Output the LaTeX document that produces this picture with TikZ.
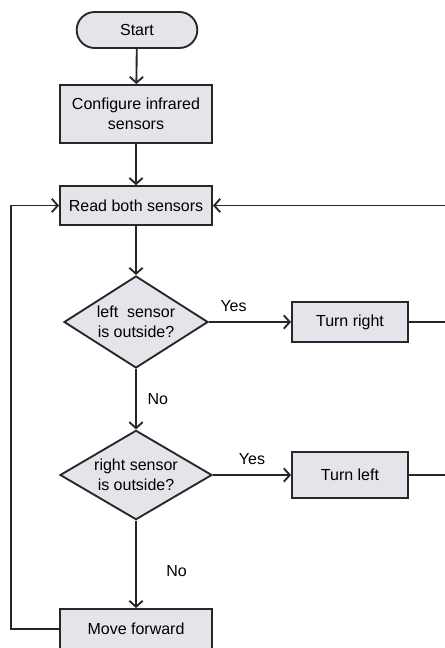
\documentclass[tikz,border=0pt]{standalone}
\usepackage{fontspec}
\setmainfont{Liberation Sans}
\usetikzlibrary{arrows.meta, positioning, shapes.geometric, shapes.misc, calc}
\definecolor{boxfill}{RGB}{228,228,235}
\definecolor{inkline}{RGB}{40,38,40}

\begin{document}
\begin{tikzpicture}[
    x=0.75pt, y=-0.75pt,
    base/.style={draw=inkline, line width=1.4pt, fill=boxfill,
                 font=\fontsize{12}{15}\selectfont, align=center, inner sep=2pt},
    term/.style={base, rounded rectangle, minimum width=94.5pt, minimum height=27pt},
    proc/.style={base, rectangle, minimum width=114pt, minimum height=30pt},
    turn/.style={base, rectangle, minimum width=87pt, minimum height=30pt},
    decide/.style={base, diamond, aspect=1.6, inner sep=0pt},
    flow/.style={draw=inkline, line width=1.4pt, -{Straight Barb[length=4.5pt, width=10pt]}},
    tag/.style={font=\fontsize{12}{15}\selectfont, inner sep=0pt},
    >=Stealth
  ]
  \useasboundingbox (0,0) rectangle (444,648);

  % main column
  \node[term] (start) at (137, 30) {Start};
  \node[proc, minimum height=43.5pt] (config) at (136, 114) {Configure infrared\\sensors};
  \node[proc, minimum height=29pt] (read) at (136, 205.5) {Read both sensors};
  \node[decide, minimum width=108pt, minimum height=69pt] (left) at (136, 322)
    {left\ \ sensor\\is outside?};
  \node[decide, minimum width=114pt, minimum height=67pt] (right) at (136, 475)
    {right sensor\\is outside?};
  \node[proc] (move) at (136, 629) {Move forward};

  % side branches
  \node[turn] (tright) at (350, 322) {Turn right};
  \node[turn, minimum height=34.5pt] (tleft) at (350, 475) {Turn left};

  \coordinate (back) at (11, 0);
  \coordinate (rail) at (452, 0);

  \draw[flow] (start) -- (config);
  \draw[flow] (config) -- (read);
  \draw[flow] (read) -- (left);
  \draw[flow] (left) -- node[tag, pos=0.3, above=7pt] {Yes} (tright);
  \draw[flow] (left) -- node[tag, pos=0.5, right=8pt] {No} (right);
  \draw[flow] (right) -- node[tag, pos=0.5, above=7pt] {Yes} (tleft);
  \draw[flow] (right) -- node[tag, pos=0.58, right=22pt] {No} (move);

  % loops back to the read step
  \draw[flow] (move.west) -- (move.west -| back) |- (read.west);
  \draw[flow] (tleft.east) -- (tleft.east -| rail) |- (read.east);
  \draw[draw=inkline, line width=1.4pt] (tright.east) -- (tright.east -| rail);
\end{tikzpicture}
\end{document}
